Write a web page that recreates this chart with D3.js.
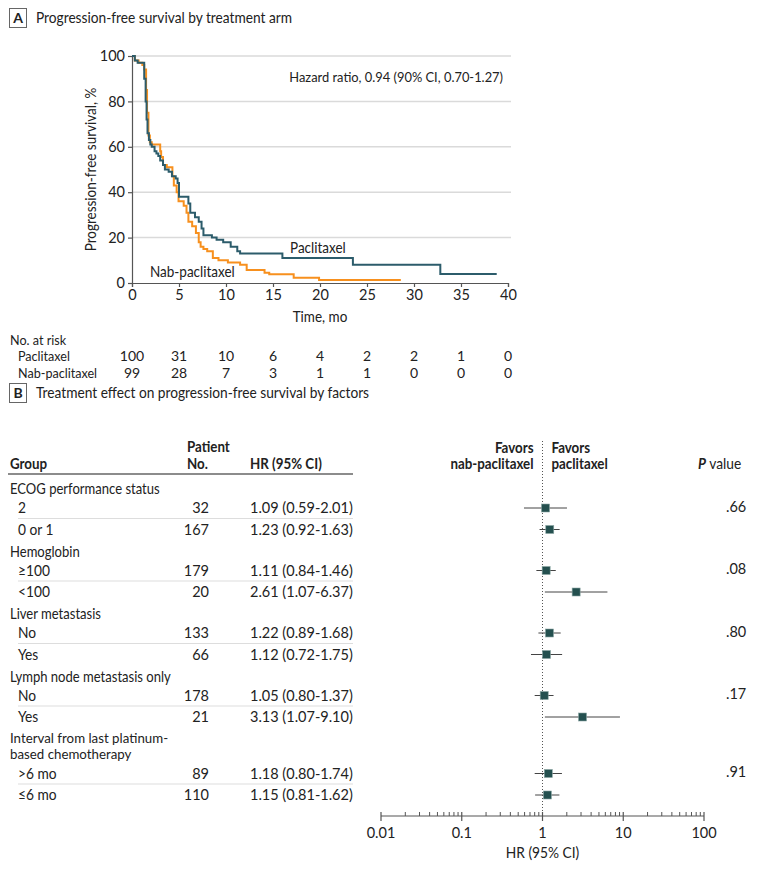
<!DOCTYPE html>
<html><head><meta charset="utf-8">
<script src="https://cdn.jsdelivr.net/npm/d3@7"></script>
<style>
body{margin:0;background:#fff;}
svg text{font-family:Lato,"Noto Sans",sans-serif;fill:#222;}
</style></head><body>
<svg id="c" width="780" height="872"></svg>
<script>
// ---------- DATA ----------
const kmTicksX = [0,5,10,15,20,25,30,35,40];
const kmTicksY = [0,20,40,60,80,100];
const paclitaxelTime = [0,0.3,0.6,1.3,1.45,1.55,1.65,1.8,1.95,2.1,2.4,2.6,2.8,3.0,3.3,3.5,3.9,4.25,4.65,4.85,5.0,6.0,6.2,6.7,7.1,7.4,7.6,8.5,9.0,9.7,10.5,11.2,11.5,16.0,23.5,32.8,38.8];
const paclitaxelSurv = [100,98,97,90,80,72,66,63,61,60,58,57,56,54,52,50,49,47,46,44,38,35,31,29,27,24,21,20,19,18,16,14,13,11,8,4,4];
const nabTime = [0,0.3,0.7,1.1,1.3,1.5,1.6,1.75,1.9,2.1,3.0,3.1,3.3,3.7,4.3,4.45,4.75,4.95,5.5,5.8,6.0,6.4,6.8,7.1,7.3,7.6,8.0,8.6,9.2,10.2,11.5,12.2,14.1,14.6,17.2,19.9,28.6];
const nabSurv = [100,98,97,96,94,85,75,65,62,61,58,55.5,52,51,47,43,40,36,34,31,27,25,22,18,16,15,14,11,10,9,8,5.7,4.5,3.9,2.3,1.3,1.3];
const armNames = ["Paclitaxel","Nab-paclitaxel"];
const atRiskPaclitaxel = [100,31,10,6,4,2,2,1,0];
const atRiskNab = [99,28,7,3,1,1,0,0,0];

const groupNames = [["ECOG performance status"],["Hemoglobin"],["Liver metastasis"],["Lymph node metastasis only"],["Interval from last platinum-","based chemotherapy"]];
const subgroupNames = ["2","0 or 1","≥100","<100","No","Yes","No","Yes",">6 mo","≤6 mo"];
const patientN = [32,167,179,20,133,66,178,21,89,110];
const hrValue = [1.09,1.23,1.11,2.61,1.22,1.12,1.05,3.13,1.18,1.15];
const ciLow = [0.59,0.92,0.84,1.07,0.89,0.72,0.80,1.07,0.80,0.81];
const ciHigh = [2.01,1.63,1.46,6.37,1.68,1.75,1.37,9.10,1.74,1.62];
const pValues = [".66",".08",".80",".17",".91"];
const forestTicks = [0.01,0.1,1,10,100];

// ---------- STYLE ----------
const C_PAC = "#2c5c6b", C_NAB = "#f7901e", C_SQ = "#24504f", C_GRID = "#dadada", C_AX = "#555";
const FS = 14.5, SX = 0.9;
const svg = d3.select("#c");

// text helper: condensed look through horizontal scale
function T(parent, x, y, str, o){
  o = o || {};
  const sx = o.sx == null ? SX : o.sx;
  const t = parent.append("text")
    .attr("transform", `translate(${x},${y})${o.rot?` rotate(${o.rot})`:""} scale(${sx},1)`)
    .attr("dy","0.35em")
    .attr("text-anchor", o.anchor || "start")
    .attr("font-size", o.size || FS);
  if (o.weight) t.attr("font-weight", o.weight);
  if (str != null) t.text(str);
  return t;
}

function panelLabel(letter, title, y){
  svg.append("rect").attr("x",9.5).attr("y",y-9.5).attr("width",17).attr("height",19)
     .attr("fill","none").attr("stroke","#666").attr("stroke-width",1);
  T(svg,18,y,letter,{anchor:"middle",size:14,weight:"bold",sx:1});
  T(svg,36,y,title,{size:15.5,sx:0.885});
}

// ---------- PANEL A ----------
panelLabel("A","Progression-free survival by treatment arm",18);
const x = d3.scaleLinear().domain([0,40]).range([132,508]);
const y = d3.scaleLinear().domain([0,100]).range([283,56]);

const gA = svg.append("g");
gA.selectAll("line.grid").data(kmTicksY.filter(d=>d>0)).join("line")
  .attr("x1",x(0)).attr("x2",511).attr("y1",d=>y(d)).attr("y2",d=>y(d))
  .attr("stroke",C_GRID).attr("stroke-width",1.5);

const yAxis = d3.axisLeft(y).tickValues(kmTicksY).tickSize(4).tickPadding(3);
const yg = gA.append("g").attr("transform",`translate(${x(0)},0)`).call(yAxis);
const xAxis = d3.axisBottom(x).tickValues(kmTicksX).tickSize(4).tickPadding(3);
const xg = gA.append("g").attr("transform",`translate(0,${y(0)})`).call(xAxis);
[yg,xg].forEach(g=>{
  g.selectAll("path,line").attr("stroke",C_AX).attr("stroke-width",1.2);
  g.selectAll("text").attr("font-size",FS).attr("fill","#222")
   .style("font-family",'Lato,"Noto Sans",sans-serif');
});

T(gA,91,(y(0)+y(100))/2,"Progression-free survival, %",{anchor:"middle",rot:-90,size:FS+0.5});
T(gA,(x(0)+x(40))/2,317,"Time, mo",{anchor:"middle",size:FS+0.5});

const line = d3.line().x(d=>x(d[0])).y(d=>y(d[1])).curve(d3.curveStepAfter);
const nabPts = nabTime.map((t,i)=>[t,nabSurv[i]]);
const pacPts = paclitaxelTime.map((t,i)=>[t,paclitaxelSurv[i]]);
gA.append("path").attr("d",line(nabPts)).attr("fill","none").attr("stroke",C_NAB).attr("stroke-width",2);
gA.append("path").attr("d",line(pacPts)).attr("fill","none").attr("stroke",C_PAC).attr("stroke-width",2);

T(gA,503,77,"Hazard ratio, 0.94 (90% CI, 0.70-1.27)",{anchor:"end",size:14,sx:0.92});
T(gA,290,248,"Paclitaxel",{size:FS+0.5});
T(gA,150,272,"Nab-paclitaxel",{size:FS+0.5});

// at risk table
const FSR = 14;
T(gA,10,340,"No. at risk",{size:FSR});
[atRiskPaclitaxel, atRiskNab].forEach((arr,r)=>{
  const yy = 356.5 + r*17;
  T(gA,18,yy,armNames[r],{size:FSR});
  arr.forEach((d,i)=>T(gA,x(kmTicksX[i]),yy,d,{anchor:"middle",sx:1,size:FSR}));
});

// ---------- PANEL B ----------
panelLabel("B","Treatment effect on progression-free survival by factors",393);
const fx = d3.scaleLog().domain([0.01,100]).range([381,704]);
const gB = svg.append("g");

// headers
const hb = {weight:"bold",sx:0.92};
T(gB,10,464,"Group",hb);
T(gB,187,447,"Patient",hb);
T(gB,187,464,"No.",hb);
T(gB,250,464,"HR (95% CI)",hb);
gB.append("line").attr("x1",8).attr("x2",353).attr("y1",474).attr("y2",474).attr("stroke","#666").attr("stroke-width",1.5);
T(gB,fx(1)-9,448,"Favors",{...hb,anchor:"end"});
T(gB,fx(1)-9,464,"nab-paclitaxel",{...hb,anchor:"end"});
T(gB,fx(1)+9,448,"Favors",hb);
T(gB,fx(1)+9,464,"paclitaxel",hb);
const pv = T(gB,698,464,null,{sx:0.95});
pv.append("tspan").attr("font-style","italic").attr("font-weight","bold").text("P");
pv.append("tspan").text(" value");

// row layout
const LINE_GAP = 16.5;
let cy = 489;
const subY = [], groupY = [];
groupNames.forEach((lines,g)=>{
  groupY.push(lines.length > 1 ? cy - 1 : cy);
  cy += (lines.length > 1 ? LINE_GAP - 1 : 0) + 19;
  subY.push(cy); cy += 21.5;
  subY.push(cy); cy += 22;
});

// reference line
gB.append("line").attr("x1",fx(1)).attr("x2",fx(1)).attr("y1",441).attr("y2",816)
  .attr("stroke","#555").attr("stroke-width",1).attr("stroke-dasharray","1,2");

groupNames.forEach((lines,g)=>{
  const multi = lines.length > 1;
  lines.forEach((l,k)=>T(gB,10,groupY[g]+LINE_GAP*k,l,{size:multi?14:FS,sx:multi?0.95:SX}));
  gB.append("line").attr("x1",18).attr("x2",353).attr("y1",subY[2*g]+10.5).attr("y2",subY[2*g]+10.5)
    .attr("stroke","#ddd").attr("stroke-width",1);
  T(gB,726,subY[2*g]-1.5,pValues[g],{sx:1});
});

subgroupNames.forEach((s,i)=>{
  const yy = subY[i];
  T(gB,18,yy,s,{sx:0.95});
  T(gB,209,yy,patientN[i],{anchor:"end",sx:1});
  T(gB,250,yy,`${hrValue[i].toFixed(2)} (${ciLow[i].toFixed(2)}-${ciHigh[i].toFixed(2)})`,{sx:1});
  gB.append("line").attr("x1",fx(ciLow[i])).attr("x2",fx(ciHigh[i])).attr("y1",yy).attr("y2",yy)
    .attr("stroke","#444").attr("stroke-width",1);
  gB.append("rect").attr("x",fx(hrValue[i])-4).attr("y",yy-4).attr("width",8).attr("height",8)
    .attr("fill",C_SQ).attr("stroke","#8aa5a3").attr("stroke-width",0.6);
});

// log axis
const axY = 816;
gB.append("line").attr("x1",fx(0.01)).attr("x2",fx(100)).attr("y1",axY).attr("y2",axY).attr("stroke",C_AX).attr("stroke-width",1.2);
const minor = [];
[0.01,0.1,1,10].forEach(d=>{ for(let k=2;k<=9;k++) minor.push(d*k); });
gB.selectAll("line.minor").data(minor).join("line")
  .attr("x1",d=>fx(d)).attr("x2",d=>fx(d)).attr("y1",axY).attr("y2",axY-4)
  .attr("stroke",C_AX).attr("stroke-width",1);
gB.selectAll("line.major").data(forestTicks).join("line")
  .attr("x1",d=>fx(d)).attr("x2",d=>fx(d)).attr("y1",axY-4).attr("y2",axY+5)
  .attr("stroke",C_AX).attr("stroke-width",1.2);
forestTicks.forEach(d=>T(gB,fx(d),833,String(d),{anchor:"middle",sx:1}));
T(gB,fx(1),853,"HR (95% CI)",{anchor:"middle",sx:0.95});
</script>
</body></html>
